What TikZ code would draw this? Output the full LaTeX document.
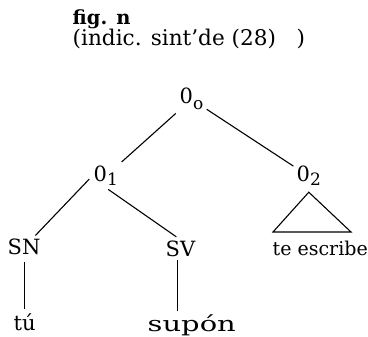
\documentclass[tikz,border=0pt]{standalone}
\usepackage{fontspec}
\setmainfont{DejaVu Serif}
\newfontfamily\titlebf{DejaVu Serif Bold}
\begin{document}
\begin{tikzpicture}[x=1pt,y=-1pt,
  lbl/.style={inner sep=1.5pt, font=\fontsize{21}{24}\selectfont, anchor=base west},
  edge/.style={line width=1.1pt}]
\useasboundingbox (0,0) rectangle (368,337);
% title
\node[lbl, font=\titlebf\fontsize{19.5}{22}\selectfont] (fig) at (71,25) {fig. n};
\node[lbl, font=\fontsize{21.6}{25}\selectfont] (ind) at (71,46) {(indic. sint'de (28)};
\node[lbl, font=\fontsize{21.6}{25}\selectfont] (par) at (295,46) {)};
% tree nodes
\node[lbl] (o0) at (178,104) {0\raisebox{-6pt}{\fontsize{17}{17}\selectfont o}};
\node[lbl] (o1) at (92,182) {0\raisebox{-4pt}{\fontsize{17}{17}\selectfont 1}};
\node[lbl] (o2) at (295,182) {0\raisebox{-4pt}{\fontsize{17}{17}\selectfont 2}};
\node[lbl] (sn) at (6,255) {SN};
\node[lbl] (sv) at (164,257) {SV};
\node[lbl] (tu) at (12,331) {tú};
\node[lbl] (sup) at (146,332) {\scalebox{1.38}[1]{supón}};
\node[lbl, font=\fontsize{19}{22}\selectfont] (te) at (271,256) {te escribe};
\coordinate (tl) at (273,232);
\coordinate (tr) at (351,232);
% connectors
\draw[edge, shorten <=3pt, shorten >=4pt] (o0) -- (o1);
\draw[edge, shorten <=2pt, shorten >=2pt] (o0) -- (o2);
\draw[edge, shorten <=4pt, shorten >=3pt] (o1.west) -- (sn);
\draw[edge, shorten <=3pt, shorten >=5pt] (o1.south) -- (sv.north);
\draw[edge, shorten <=5pt, shorten >=4pt] (sn.south) -- (sn.south |- tu.north);
\draw[edge, shorten <=1pt, shorten >=3pt] ([xshift=-3pt]sv.south) -- ([xshift=-3pt]sv.south |- sup.north);
\draw[edge] ([yshift=-4.5pt]o2.south) -- (tl) -- (tr) -- cycle;
\end{tikzpicture}
\end{document}
